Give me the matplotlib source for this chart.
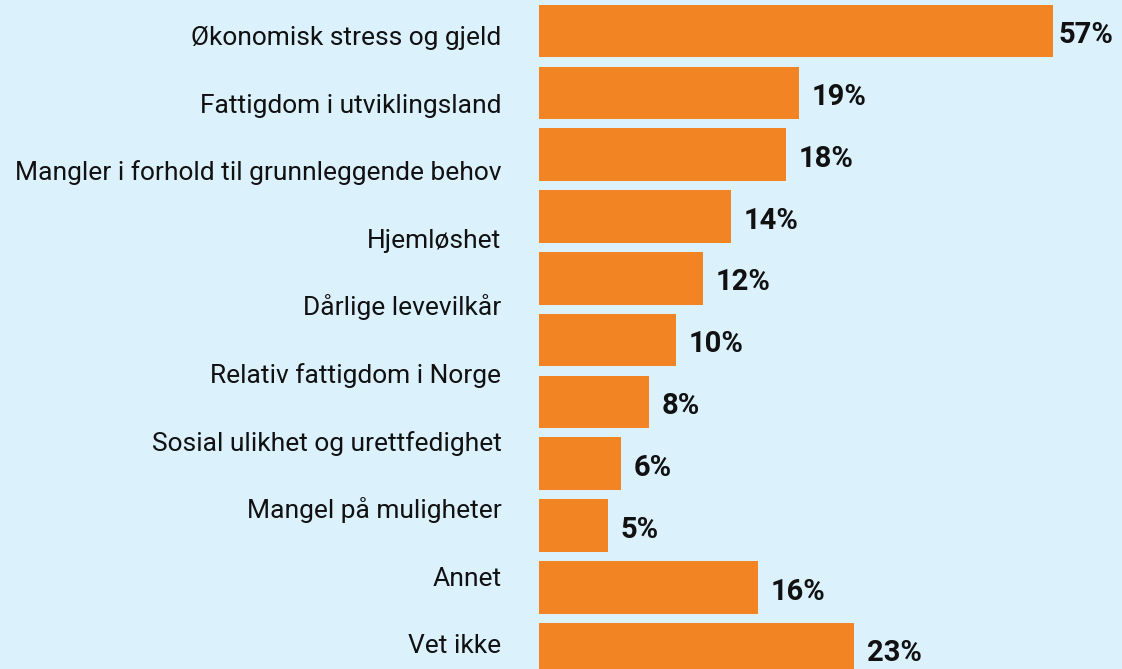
import numpy as np
import matplotlib
matplotlib.use("Agg")
import matplotlib.pyplot as plt

# the source shows 10 text labels next to 11 bars, kept as in the picture
categories = ["Økonomisk stress og gjeld", "Fattigdom i utviklingsland",
              "Mangler i forhold til grunnleggende behov", "Hjemløshet",
              "Dårlige levevilkår", "Relativ fattigdom i Norge",
              "Sosial ulikhet og urettfedighet", "Mangel på muligheter",
              "Annet", "Vet ikke"]
values = [57, 19, 18, 14, 12, 10, 8, 6, 5, 16, 23]
value_labels = ["57%", "19%", "18%", "14%", "12%", "10%", "8%", "6%", "5%", "16%", "23%"]

bg = "#DBF1FC"
orange = "#F38423"
txt = "#111111"
fonts = ["Roboto", "Liberation Sans", "DejaVu Sans"]

fig = plt.figure(figsize=(11.22, 6.69), dpi=100, facecolor=bg)
ax = fig.add_axes([539/1122, 0, 514/1122, 1])
ax.set_facecolor(bg)

y = np.arange(len(values))
xmax = 37.5  # first bar is cut at the edge
ax.barh(y, values, height=0.85, color=orange)
ax.set_xlim(0, xmax)
ax.set_ylim(10.32, -0.502)
ax.set_xticks([])
ax.set_yticks([])
for s in ax.spines.values():
    s.set_visible(False)

for yi, v, lab in zip(y, values, value_labels):
    if v > xmax:
        ax.annotate(lab, (xmax, yi), xytext=(4, -3), textcoords="offset points",
                    va="center", ha="left", fontsize=21, fontweight="bold",
                    family=fonts, color=txt, annotation_clip=False)
    else:
        ax.annotate(lab, (v, yi), xytext=(9, -3), textcoords="offset points",
                    va="center", ha="left", fontsize=21, fontweight="bold",
                    family=fonts, color=txt)

# category labels on their own spacing
lab_ax = fig.add_axes([539/1122, 0, 514/1122, 1])
lab_ax.patch.set_visible(False)
lab_ax.set_ylim(9.231, -0.666)
lab_ax.set_xticks([])
lab_ax.set_yticks(np.arange(len(categories)))
lab_ax.set_yticklabels(categories, fontsize=19, family=fonts, color=txt)
for t in lab_ax.get_yticklabels():
    t.set_va("baseline")
lab_ax.tick_params(axis="y", length=0, pad=27)
for s in lab_ax.spines.values():
    s.set_visible(False)

fig.savefig("out.png", dpi=100, facecolor=bg)
